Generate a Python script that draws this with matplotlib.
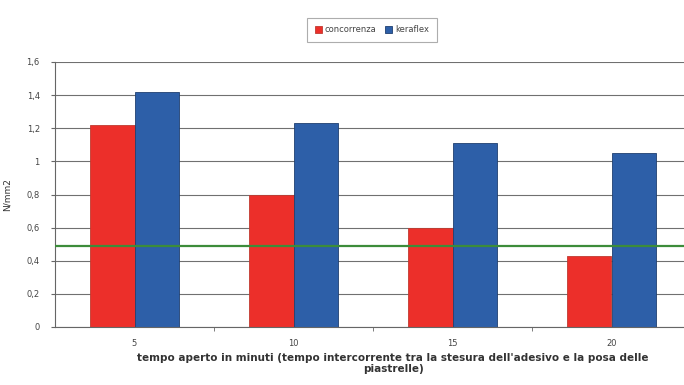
import numpy as np
import matplotlib.pyplot as plt
from matplotlib.ticker import FixedLocator

# tempo aperto (minuti) e resistenza a trazione N/mm2
tempi = ['5', '10', '15', '20']
concorrenza = [1.22, 0.80, 0.60, 0.43]
keraflex = [1.42, 1.23, 1.11, 1.05]
soglia = 0.49  # limite minimo di norma
yticks = [0, 0.2, 0.4, 0.6, 0.8, 1.0, 1.2, 1.4, 1.6]
ylabels = ['0', '0,2', '0,4', '0,6', '0,8', '1', '1,2', '1,4', '1,6']

W, H = 684, 385
fig = plt.figure(figsize=(W / 100, H / 100), dpi=100)
fig.patch.set_facecolor('white')
# l'area del grafico esce un po' a destra
ax = fig.add_axes([55 / W, (H - 327) / H, (691 - 55) / W, (327 - 62) / H])

x = np.arange(len(tempi))
w = 0.283
ax.bar(x - w / 2, concorrenza, w, color='#ec2f2a', edgecolor='#c03a30',
       linewidth=0.6, label='concorrenza', zorder=2)
ax.bar(x + w / 2, keraflex, w, color='#2d5fa8', edgecolor='#1f3f70',
       linewidth=0.6, label='keraflex', zorder=2)
ax.axhline(soglia, color='#3c8c3a', linewidth=1.6, zorder=3)

ax.set_xlim(-0.5, len(tempi) - 0.5)
ax.set_ylim(0, 1.6)
ax.set_yticks(yticks)
ax.set_yticklabels(ylabels)
ax.yaxis.grid(True, color='#707070', linewidth=0.8, zorder=0)
ax.set_xticks(x)
ax.set_xticklabels(tempi)
ax.xaxis.set_minor_locator(FixedLocator(x[:-1] + 0.5))
ax.tick_params(axis='x', which='major', length=0, pad=9, labelsize=6,
               colors='#444444')
ax.tick_params(axis='x', which='minor', length=3, color='#666666')
ax.tick_params(axis='y', length=3, color='#666666', labelsize=6,
               colors='#444444', pad=8)
for s in ['top', 'right']:
    ax.spines[s].set_visible(False)
for s in ['left', 'bottom']:
    ax.spines[s].set_color('#666666')
    ax.spines[s].set_linewidth(0.8)

ax.set_ylabel('N/mm2', fontsize=6.5, color='#333333', labelpad=11)
fig.text(393 / W, 1 - 358 / H,
         "tempo aperto in minuti (tempo intercorrente tra la stesura dell'adesivo e la posa delle",
         ha='center', va='center', fontsize=7.5, fontweight='bold', color='#333333')
fig.text(393 / W, 1 - 369 / H, 'piastrelle)', ha='center', va='center',
         fontsize=7.5, fontweight='bold', color='#333333')

leg = fig.legend(loc='center', bbox_to_anchor=(372 / W, 1 - 30 / H), ncol=2,
                 fontsize=6, frameon=True, fancybox=False, handlelength=0.8,
                 handleheight=0.8, handletextpad=0.4, columnspacing=1.0,
                 borderpad=0.9)
leg.get_frame().set_edgecolor('#999999')
leg.get_frame().set_linewidth(0.8)
for t in leg.get_texts():
    t.set_color('#444444')

fig.savefig('out.png', dpi=100)
